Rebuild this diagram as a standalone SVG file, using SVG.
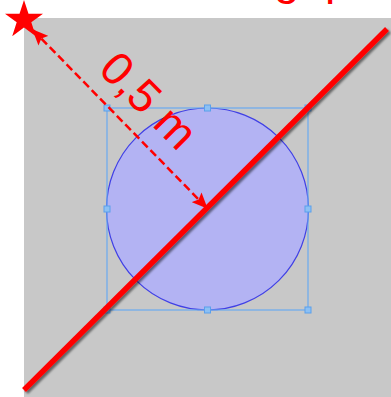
<svg xmlns="http://www.w3.org/2000/svg" width="391" height="397" viewBox="0 0 391 397">
<style>
.handle{fill:#8cc0f4;stroke:#5aa0ec;stroke-width:1}
.red{fill:#ff0000}
.lbl{font-family:"Liberation Sans",Arial,sans-serif;font-size:46px;fill:#ff0000}
</style>
<defs>
<filter id="sh" x="-10%" y="-10%" width="120%" height="120%">
<feDropShadow dx="2" dy="2" stdDeviation="1.2" flood-color="#000" flood-opacity="0.5"/>
</filter>
<marker id="ah" viewBox="0 0 16 14" refX="15" refY="7" markerWidth="16" markerHeight="14" markerUnits="userSpaceOnUse" orient="auto-start-reverse">
<path d="M0,0 L16,7 L0,14 L3,7 Z" fill="#ff0000"/>
</marker>
</defs>
<rect x="24" y="18" width="367" height="379" fill="#c8c8c8"/>
<text class="lbl" x="274" y="-6">g</text>
<text class="lbl" x="325" y="-6">p</text>
<g id="circle">
<circle cx="207.5" cy="209" r="101" fill="#b3b3f3" stroke="#4040e6" stroke-width="1.2"/>
</g>
<g id="selection">
<rect x="107" y="108" width="201" height="202" fill="none" stroke="#6aaaf0" stroke-width="1.2"/>
<rect class="handle" x="104" y="105" width="6" height="6"/>
<rect class="handle" x="204.5" y="105" width="6" height="6"/>
<rect class="handle" x="305" y="105" width="6" height="6"/>
<rect class="handle" x="104" y="206" width="6" height="6"/>
<rect class="handle" x="305" y="206" width="6" height="6"/>
<rect class="handle" x="104" y="307" width="6" height="6"/>
<rect class="handle" x="204.5" y="307" width="6" height="6"/>
<rect class="handle" x="305" y="307" width="6" height="6"/>
</g>
<g id="connectors">
<line x1="33" y1="30" x2="207" y2="208" stroke="#ff0000" stroke-width="2.5" stroke-dasharray="8,4" marker-start="url(#ah)" marker-end="url(#ah)"/>
</g>
<g id="redline">
<line x1="24" y1="390" x2="387" y2="29" stroke="#ff0000" stroke-width="5.5" filter="url(#sh)"/>
</g>
<g id="star">
<polygon class="red" points="24,0 28.5,13.8 43,13.8 31.3,22.3 35.8,36.2 24,27.6 12.2,36.2 16.7,22.3 5,13.8 19.5,13.8"/>
</g>
<g id="label">
<text class="lbl" transform="translate(97,71) rotate(45)">0,5 m</text>
</g>
</svg>
